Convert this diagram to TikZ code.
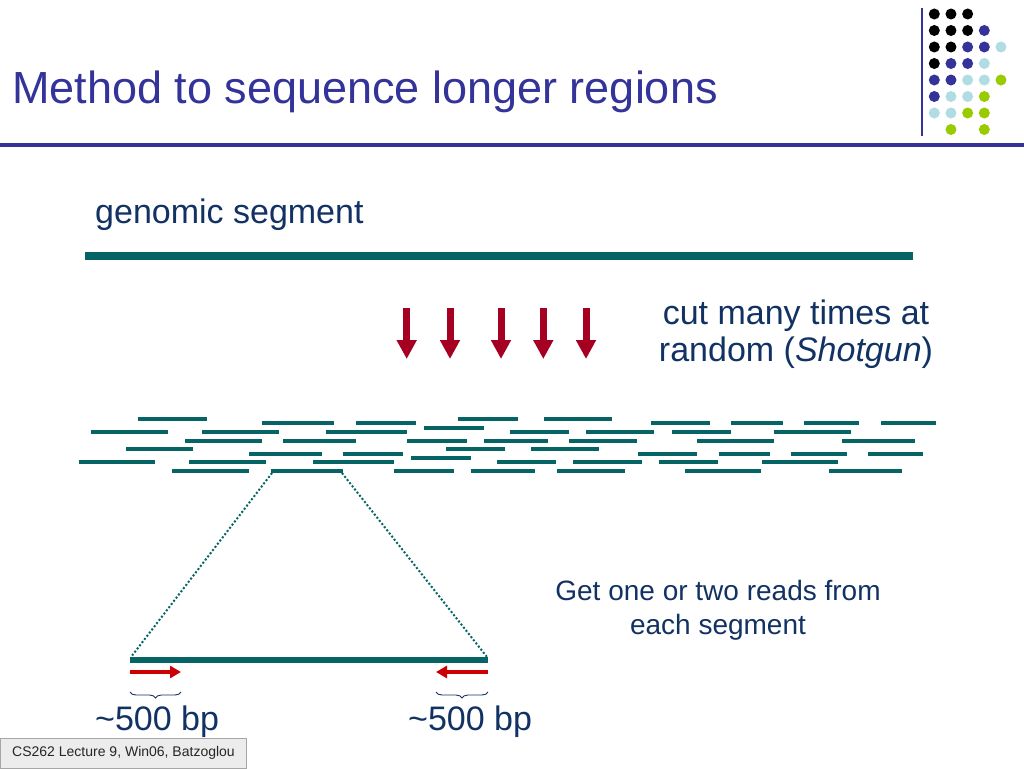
\documentclass[tikz,border=0pt]{standalone}
\usepackage{fontspec}
\setmainfont{Liberation Sans}
\usetikzlibrary{arrows.meta,decorations.pathreplacing}
\definecolor{titleblue}{RGB}{51,51,153}
\definecolor{navytext}{RGB}{18,50,100}
\definecolor{tealseg}{RGB}{6,100,100}
\definecolor{cutred}{RGB}{165,0,33}
\definecolor{readred}{RGB}{204,0,0}
\definecolor{dotK}{RGB}{0,0,0}
\definecolor{dotB}{RGB}{51,51,153}
\definecolor{dotL}{RGB}{176,220,228}
\definecolor{dotG}{RGB}{153,204,0}
\definecolor{footgray}{RGB}{236,236,236}
\begin{document}
\begin{tikzpicture}[x=1pt,y=-1pt,
  frag/.style={draw=tealseg, line width=4pt},
  cutarrow/.style={draw=cutred, fill=cutred, line width=7pt, -{Triangle[width=19pt,length=19pt]}},
  readarrow/.style={draw=readred, fill=readred, line width=4pt, -{Triangle[width=12pt,length=11pt]}},
  zoomline/.style={draw=tealseg, line width=2pt, dash pattern=on 2pt off 2pt},
  bracestyle/.style={draw=navytext, line width=0.9pt, decorate, decoration={brace, mirror, amplitude=6pt}},
  bodytext/.style={text=navytext, inner sep=0pt, font=\fontsize{34}{40}\selectfont},
  smalltext/.style={text=navytext, inner sep=0pt, font=\fontsize{28}{34}\selectfont}]
\useasboundingbox (0,0) rectangle (1024,768);
\fill[white] (0,0) rectangle (1024,768);
% header
\node[anchor=base west, inner sep=0pt, text=titleblue, font=\fontsize{45}{54}\selectfont] (title) at (12,103) {Method to sequence longer regions};
\draw[titleblue, line width=3.5pt] (0,145) -- (1024,145);
\draw[titleblue, line width=2pt] (921.5,8) -- (921.5,136);
\foreach \c/\r/\col in {0/0/dotK,1/0/dotK,2/0/dotK,
  0/1/dotK,1/1/dotK,2/1/dotK,3/1/dotB,
  0/2/dotK,1/2/dotK,2/2/dotB,3/2/dotB,4/2/dotL,
  0/3/dotK,1/3/dotB,2/3/dotB,3/3/dotL,
  0/4/dotB,1/4/dotB,2/4/dotL,3/4/dotL,4/4/dotG,
  0/5/dotB,1/5/dotL,2/5/dotL,3/5/dotG,
  0/6/dotL,1/6/dotL,2/6/dotG,3/6/dotG,
  1/7/dotG,3/7/dotG}
  \fill[\col] ({934.3+16.67*\c},{14+16.5*\r}) circle[radius=5.5pt];
% genomic segment
\node[bodytext, anchor=base west] (genlabel) at (95,223) {genomic segment};
\draw[tealseg, line width=7.5pt] (85,256) -- (913,256);
% cut arrows
\foreach \x in {406.7,450,501,543.3,586}
  \draw[cutarrow] (\x,308) -- (\x,359);
\node[bodytext, anchor=base] (cut1) at (796,324) {cut many times at};
\node[bodytext, anchor=base] (cut2) at (796,361) {random (\textit{Shotgun})};
% fragments
\foreach \a/\b/\y in {138/207/419,458/518/419,544/612/419,
  262/334/423,356/416/423,651/710/423,731/783/423,804/859/423,881/936/423,
  424/484/427.5,
  91/168/432,202/279/432,326/407/432,510/569/432,586/654/432,672/731/432,774/851/432,
  185/262/440.5,283/356/440.5,407/467/440.5,484/548/440.5,569/637/440.5,697/774/440.5,842/915/440.5,
  126/193/449,446/505/449,531/599/449,
  249/322/453.5,343/403/453.5,638/697/453.5,719/770/453.5,791/847/453.5,868/923/453.5,
  411/471/457.5,
  79/155/462,189/266/462,313/394/462,497/556/462,573/642/462,659/718/462,762/838/462,
  172/249/470.5,394/454/470.5,471/535/470.5,557/625/470.5,685/761/470.5,829/902/470.5}
  \draw[frag] (\a,\y) -- (\b,\y);
\draw[frag] (271,470.5) -- (343,470.5);
\coordinate (fragL) at (272,473);
\coordinate (fragR) at (342,473);
% zoomed read
\coordinate (segL) at (131,657);
\coordinate (segR) at (487,657);
\draw[zoomline] (fragL) -- (segL);
\draw[zoomline] (fragR) -- (segR);
\draw[tealseg, line width=6pt] (130,659.5) -- (488,659.5);
\coordinate (rlA) at (130,672);
\coordinate (rlB) at (181,672);
\coordinate (rrA) at (488,672);
\coordinate (rrB) at (436,672);
\draw[readarrow] (rlA) -- (rlB);
\draw[readarrow] (rrA) -- (rrB);
\draw[bracestyle] (130,692) -- (181,692);
\draw[bracestyle] (436,692) -- (488,692);
\node[bodytext, anchor=base west] (bpL) at (95,730) {{\char"7E}500 bp};
\node[bodytext, anchor=base west] (bpR) at (408,730) {{\char"7E}500 bp};
\node[smalltext, anchor=base] (get1) at (718,600) {Get one or two reads from};
\node[smalltext, anchor=base] (get2) at (718,634) {each segment};
% footer
\node[draw=gray!70, fill=footgray, line width=0.8pt, minimum width=246pt, minimum height=30pt, inner sep=0pt, text=black!85, font=\fontsize{14}{16}\selectfont] (footer) at (123.5,753) {CS262 Lecture 9, Win06, Batzoglou};
\end{tikzpicture}
\end{document}
